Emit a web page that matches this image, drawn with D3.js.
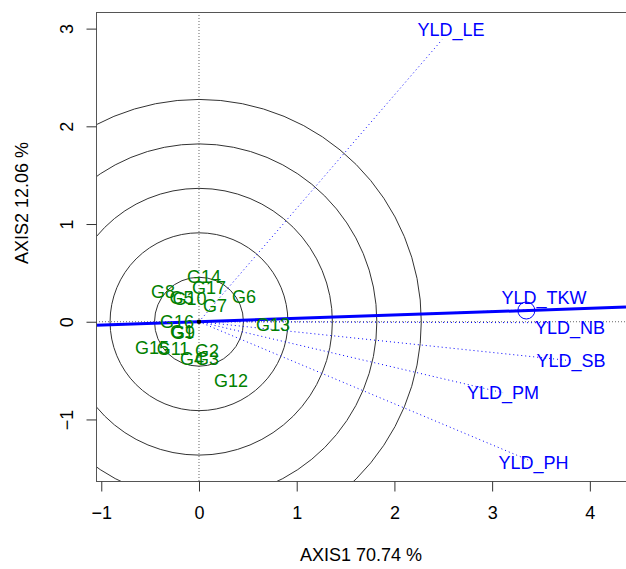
<!DOCTYPE html>
<html>
<head>
<meta charset="utf-8">
<script src="https://cdn.jsdelivr.net/npm/d3@7"></script>
<style>
  html, body { margin: 0; padding: 0; background: #fff; }
  svg { display: block; font-family: Arial, "Liberation Sans", sans-serif; }
</style>
</head>
<body>
<svg id="chart" width="626" height="569"></svg>
<script>
// Genotype scores on the first two principal axes
const genotypes = ["G1","G2","G3","G4","G5","G6","G7","G8","G9","G10","G11","G12","G13","G14","G15","G16","G17"];
const genoX = [-0.174, 0.082, 0.082, -0.072, -0.179, 0.461, 0.164, -0.368, -0.164, -0.097, -0.266, 0.328, 0.757, 0.051, -0.481, -0.225, 0.102];
const genoY = [-0.102, -0.297, -0.379, -0.379, 0.246, 0.256, 0.164, 0.307, -0.113, 0.235, -0.276, -0.604, -0.031, 0.461, -0.266, 0.000, 0.348];

// Environment (trait) vectors
const envNames = ["YLD_LE","YLD_TKW","YLD_NB","YLD_SB","YLD_PM","YLD_PH"];
const envX = [2.487, 3.388, 3.572, 3.808, 3.112, 3.424];
const envY = [2.886, 0.123, -0.010, -0.399, -0.727, -1.438];

// Average environment coordinate (defines the average-environment axis)
const avgEnv = [3.35, 0.115];

// Concentric circle radii around the origin
const circleRadii = [0.455, 0.91, 1.365, 1.82, 2.275];

// Axis ticks and titles
const xTicks = [-1, 0, 1, 2, 3, 4];
const yTicks = [-1, 0, 1, 2, 3];
const xTitle = "AXIS1 70.74 %";
const yTitle = "AXIS2 12.06 %";

// ---- layout ----
const L = 96, T = 12, R = 626, B = 481;
const x = d3.scaleLinear().domain([-1.054, 4.37]).range([L, R]);
const y = d3.scaleLinear().domain([-1.63, 3.17]).range([B, T]);
const pxPerUnit = x(1) - x(0);

const svg = d3.select("#chart");
const FS = 18;
const blue = "#0000ff", green = "#008000";
const fontFam = "Arial, 'Liberation Sans', sans-serif";

svg.append("defs").append("clipPath").attr("id", "plotclip")
  .append("rect").attr("x", L).attr("y", T).attr("width", R - L).attr("height", B - T);

const plot = svg.append("g").attr("clip-path", "url(#plotclip)");

// reference lines through the origin
plot.append("line")
  .attr("x1", x(0)).attr("x2", x(0)).attr("y1", T).attr("y2", B)
  .attr("stroke", "#666").attr("stroke-width", 1).attr("stroke-dasharray", "1,2");
plot.append("line")
  .attr("x1", L).attr("x2", R).attr("y1", y(0)).attr("y2", y(0))
  .attr("stroke", "#666").attr("stroke-width", 1).attr("stroke-dasharray", "1,2");

// concentric circles
plot.selectAll("circle.ring").data(circleRadii).join("circle")
  .attr("class", "ring")
  .attr("cx", x(0)).attr("cy", y(0))
  .attr("r", d => d * pxPerUnit)
  .attr("fill", "none").attr("stroke", "#333").attr("stroke-width", 1);

// environment vectors
const envData = envNames.map((n, i) => ({ name: n, x: envX[i], y: envY[i] }));
plot.selectAll("line.env").data(envData).join("line")
  .attr("class", "env")
  .attr("x1", x(0)).attr("y1", y(0))
  .attr("x2", d => x(d.x)).attr("y2", d => y(d.y))
  .attr("stroke", blue).attr("stroke-width", 1).attr("stroke-dasharray", "1,3");

// average-environment axis
const slope = avgEnv[1] / avgEnv[0];
const xd = x.domain();
plot.append("line")
  .attr("x1", x(xd[0])).attr("y1", y(slope * xd[0]))
  .attr("x2", x(xd[1])).attr("y2", y(slope * xd[1]))
  .attr("stroke", blue).attr("stroke-width", 3);

// average environment marker
plot.append("circle")
  .attr("cx", x(avgEnv[0])).attr("cy", y(avgEnv[1])).attr("r", 8.5)
  .attr("fill", "none").attr("stroke", blue).attr("stroke-width", 1);
plot.append("circle")
  .attr("cx", x(0)).attr("cy", y(0)).attr("r", 2.2).attr("fill", "#000");

// environment labels (nudged apart where they crowd)
const nudge = { "YLD_LE": [9, -10], "YLD_TKW": [14, -12.5], "YLD_NB": [22, 4.5] };
plot.selectAll("text.env").data(envData).join("text")
  .attr("class", "env")
  .attr("x", d => x(d.x) + (nudge[d.name] ? nudge[d.name][0] : 0))
  .attr("y", d => y(d.y) + (nudge[d.name] ? nudge[d.name][1] : 0))
  .attr("text-anchor", "middle").attr("dy", "0.36em")
  .attr("font-size", FS).attr("fill", blue)
  .text(d => d.name);

// genotype labels
const genoData = genotypes.map((n, i) => ({ name: n, x: genoX[i], y: genoY[i] }));
plot.selectAll("text.geno").data(genoData).join("text")
  .attr("class", "geno")
  .attr("x", d => x(d.x)).attr("y", d => y(d.y))
  .attr("text-anchor", "middle").attr("dy", "0.36em")
  .attr("font-size", FS).attr("fill", green)
  .text(d => d.name);

// frame
svg.append("rect").attr("x", L + 0.5).attr("y", T + 0.5)
  .attr("width", R - L).attr("height", B - T)
  .attr("fill", "none").attr("stroke", "#555").attr("stroke-width", 1);

// axes
const xAxis = d3.axisBottom(x).tickValues(xTicks).tickSize(10).tickPadding(15).tickFormat(d3.format("d"));
const gx = svg.append("g").attr("transform", `translate(0,${B + 0.5})`).call(xAxis);
gx.select(".domain").remove();
gx.selectAll("line").attr("stroke", "#333");
gx.selectAll("text").attr("font-size", FS).attr("fill", "#000").attr("font-family", fontFam);

const yAxis = d3.axisLeft(y).tickValues(yTicks).tickSize(10).tickPadding(0).tickFormat(d3.format("d"));
const gy = svg.append("g").attr("transform", `translate(${L + 0.5},0)`).call(yAxis);
gy.select(".domain").remove();
gy.selectAll("line").attr("stroke", "#333");
gy.selectAll("text")
  .attr("font-size", FS).attr("fill", "#000").attr("font-family", fontFam)
  .attr("x", null).attr("dy", null)
  .attr("text-anchor", "middle")
  .attr("transform", "translate(-30,0) rotate(-90)")
  .attr("y", 0).attr("dy", "0.36em");

// axis titles
svg.append("text")
  .attr("x", 361).attr("y", 561)
  .attr("text-anchor", "middle").attr("font-size", FS).attr("fill", "#000")
  .text(xTitle);
svg.append("text")
  .attr("transform", `translate(28,203) rotate(-90)`)
  .attr("text-anchor", "middle").attr("font-size", FS).attr("fill", "#000")
  .text(yTitle);
</script>
</body>
</html>
